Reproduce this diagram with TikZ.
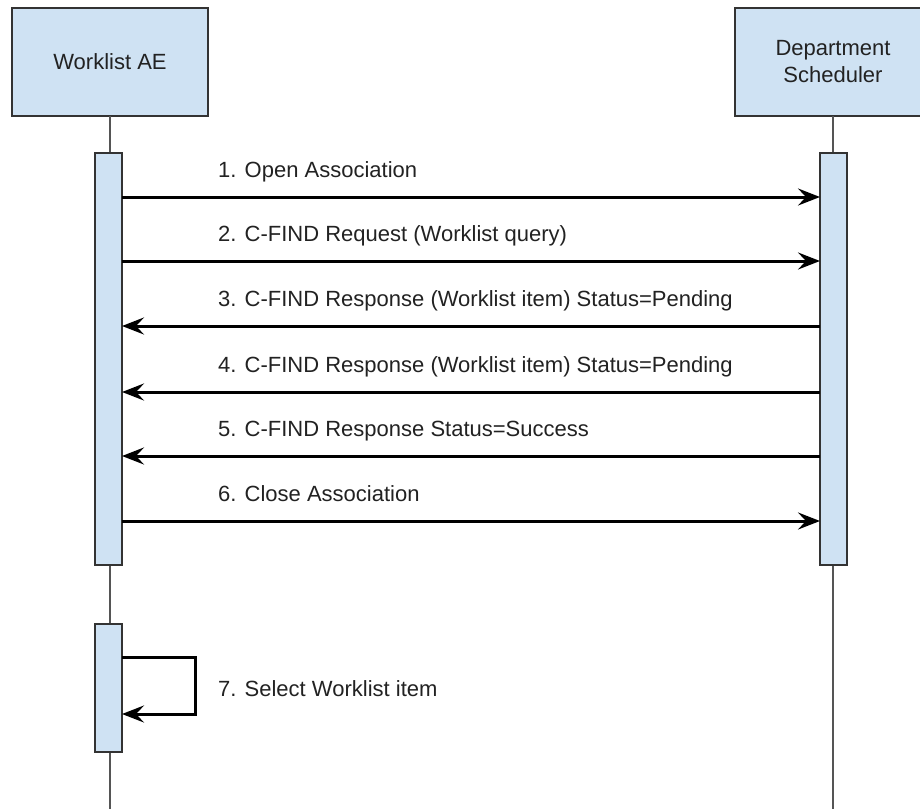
\documentclass[tikz,border=0pt]{standalone}
\usepackage{fontspec}
\setmainfont{Liberation Sans}
\usetikzlibrary{arrows.meta}
\definecolor{boxfill}{HTML}{CFE2F3}
\definecolor{boxline}{HTML}{333333}
\definecolor{lifeline}{HTML}{555555}
\definecolor{txt}{HTML}{222222}
\begin{document}
\begin{tikzpicture}[x=1pt,y=-1pt,
  actor/.style={draw=boxline, line width=2pt, fill=boxfill, minimum width=196pt, minimum height=108pt, inner sep=0pt, outer sep=0pt, align=center, font=\fontsize{22}{27}\selectfont, text=txt},
  actbar/.style={draw=boxline, line width=2pt, fill=boxfill, minimum width=27pt, inner sep=0pt, outer sep=0pt, anchor=north},
  life/.style={draw=lifeline, line width=1.2pt},
  msg/.style={draw=black, line width=3pt, -{Stealth[length=22pt, width=17pt, inset=8pt]}},
  lbl/.style={anchor=base west, inner sep=0pt, font=\fontsize{22}{27}\selectfont, text=txt}
]
\useasboundingbox (0,0) rectangle (920,808);
\clip (0,0) rectangle (920,808);
\fill[white] (0,0) rectangle (920,808);
% actors
\node[actor] (wl) at (110,62) {Worklist AE};
\node[actor] (ds) at (833,62) {Department\\Scheduler};
% lifelines
\coordinate (wlEnd) at (110,810);
\coordinate (dsEnd) at (833,810);
\draw[life] (wl.south) -- (wlEnd);
\draw[life] (ds.south) -- (dsEnd);
% activation bars
\node[actbar, minimum height=412pt] (barL) at (108.5,153) {};
\node[actbar, minimum height=412pt] (barR) at (833.5,153) {};
\node[actbar, minimum height=128pt] (barL2) at (108.5,624) {};
% message rows
\coordinate (y1) at (0,197);
\coordinate (y2) at (0,261);
\coordinate (y3) at (0,326);
\coordinate (y4) at (0,392);
\coordinate (y5) at (0,456);
\coordinate (y6) at (0,521);
\draw[msg] (barL.east |- y1) -- (barR.west |- y1);
\draw[msg] (barL.east |- y2) -- (barR.west |- y2);
\draw[msg] (barR.west |- y3) -- (barL.east |- y3);
\draw[msg] (barR.west |- y4) -- (barL.east |- y4);
\draw[msg] (barR.west |- y5) -- (barL.east |- y5);
\draw[msg] (barL.east |- y6) -- (barR.west |- y6);
\node[lbl] (l1) at (218,177.5) {1. Open Association};
\node[lbl] (l2) at (218,241.5) {2. C-FIND Request (Worklist query)};
\node[lbl] (l3) at (218,306.5) {3. C-FIND Response (Worklist item) Status=Pending};
\node[lbl] (l4) at (218,372.5) {4. C-FIND Response (Worklist item) Status=Pending};
\node[lbl] (l5) at (218,436.5) {5. C-FIND Response Status=Success};
\node[lbl] (l6) at (218,501.5) {6. Close Association};
% self message
\coordinate (s1) at (0,657);
\coordinate (s2) at (0,714);
\coordinate (sx) at (195,0);
\draw[msg] (barL2.east |- s1) -- (sx |- s1) -- (sx |- s2) -- (barL2.east |- s2);
\node[lbl] (l7) at (218,696) {7. Select Worklist item};
\end{tikzpicture}
\end{document}
